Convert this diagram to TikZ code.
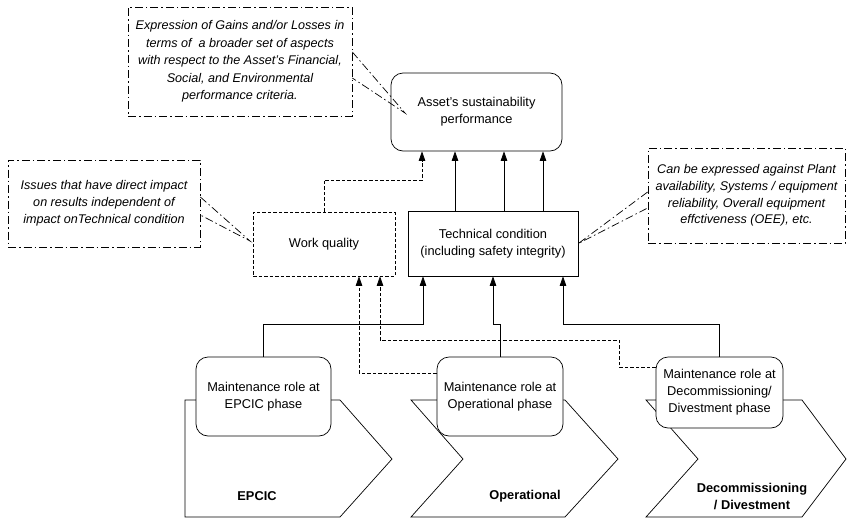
\documentclass[tikz,border=0pt]{standalone}
\usepackage{fontspec}
\setmainfont{Liberation Sans}
\usetikzlibrary{arrows.meta}
\begin{document}
\begin{tikzpicture}[x=1pt,y=-1pt,
  every node/.style={font=\fontsize{12.8}{17}\selectfont, align=center, inner sep=0pt},
  base/.style={line width=0.7pt, draw=black},
  rbox/.style={base, rounded corners=12pt, fill=white},
  sbox/.style={base, fill=white},
  dbox/.style={base, dash pattern=on 3.5pt off 2pt, fill=white},
  cbox/.style={base, dash pattern=on 8pt off 3pt on 1.5pt off 3pt},
  cline/.style={line width=0.7pt, dash pattern=on 8pt off 3pt on 1.5pt off 3pt},
  arr/.style={line width=0.7pt, -{Triangle[length=9.5pt,width=6.5pt]}},
  dsh/.style={dash pattern=on 3.5pt off 2pt},
  itx/.style={font=\fontsize{12.6}{17}\selectfont\itshape},
  lbl/.style={font=\fontsize{12.8}{17}\selectfont\bfseries}
]
\useasboundingbox (0,0) rectangle (847,520);

% chevrons
\draw[base] (185,400) -- (340,400) -- (392,459) -- (340,517) -- (185,517) -- cycle;
\draw[base] (411,400) -- (565,400) -- (618,459) -- (565,517) -- (411,517) -- (463,459) -- cycle;
\draw[base] (646,400) -- (802,400) -- (846,459) -- (802,517) -- (646,517) -- (698,459) -- cycle;
\node[lbl] (l1) at (257,496) {EPCIC};
\node[lbl] (l2) at (525,496) {Operational};
\node[lbl] (l3) at (752,496) {Decommissioning\\/ Divestment};

% main nodes
\node[rbox, minimum width=171pt, minimum height=78pt] (asset) at (476.5,112) {Asset's sustainability\\performance};
\node[dbox, minimum width=142pt, minimum height=64pt] (wq) at (324,244) {Work quality};
\node[sbox, minimum width=170pt, minimum height=65pt] (tech) at (493,243.5) {Technical condition\\(including safety integrity)};

\node[rbox, minimum width=135pt, minimum height=79pt] (ep) at (263.5,396.5) {Maintenance role at\\EPCIC phase};
\node[rbox, minimum width=126pt, minimum height=79pt] (op) at (500,396.5) {Maintenance role at\\Operational phase};
\node[rbox, minimum width=127pt, minimum height=71pt] (dec) at (719.5,392.5) {Maintenance role at\\Decommissioning/\\Divestment phase};

% callouts
\node[cbox, itx, font=\fontsize{12.6}{17.5}\selectfont\itshape, minimum width=224pt, minimum height=109pt] (tc) at (240,61.5) {Expression of Gains and/or Losses in\\terms of\ \ a broader set of aspects\\with respect to the Asset's Financial,\\Social, and Environmental\\performance criteria.};
\node[cbox, itx, minimum width=192pt, minimum height=87pt] (lc) at (104,203.5) {Issues that have direct impact\\on results independent of\\impact onTechnical condition};
\node[cbox, itx, font=\fontsize{12.6}{16.7}\selectfont\itshape, minimum width=197pt, minimum height=95pt] (rc) at (746.5,195.5) {Can be expressed against Plant\\availability, Systems / equipment\\reliability, Overall equipment\\effctiveness (OEE), etc.};

\coordinate (p1) at (405,113);
\coordinate (p2) at (250,241);
\draw[cline] ([yshift=9.5pt]tc.east) -- (p1) -- ([yshift=-16.5pt]tc.east);
\draw[cline] ([yshift=6.5pt]lc.east) -- (p2) -- ([yshift=-11.5pt]lc.east);
\draw[cline] ([yshift=3.5pt]rc.west) -- (tech.east) -- ([yshift=-12.5pt]rc.west);

% tech -> asset
\draw[arr] ([xshift=-38pt]tech.north) -- ([xshift=-38pt]tech.north |- asset.south);
\draw[arr] ([xshift=11pt]tech.north) -- ([xshift=11pt]tech.north |- asset.south);
\draw[arr] ([xshift=50pt]tech.north) -- ([xshift=50pt]tech.north |- asset.south);
% work quality -> asset
\coordinate (c1) at (422,180);
\draw[arr, dsh] (wq.north) |- (c1) -- (c1 |- asset.south);

% phases -> tech
\coordinate (b1) at (423,324);
\coordinate (b2) at (493,324);
\coordinate (b3) at (563,324);
\draw[arr] (ep.north) |- (b1) -- (b1 |- tech.south);
\draw[arr] (op.north) |- (b2) -- (b2 |- tech.south);
\draw[arr] (dec.north) |- (b3) -- (b3 |- tech.south);

% phases -> work quality (dashed)
\coordinate (d1) at (359,300);
\coordinate (d2) at (619,340);
\coordinate (d3) at (380,340);
\draw[arr, dsh] ([yshift=23.5pt]op.west) -| (d1 |- wq.south);
\draw[arr, dsh] ([yshift=25.5pt]dec.west) -| (d2) -- (d3) -- (d3 |- wq.south);
\end{tikzpicture}
\end{document}
